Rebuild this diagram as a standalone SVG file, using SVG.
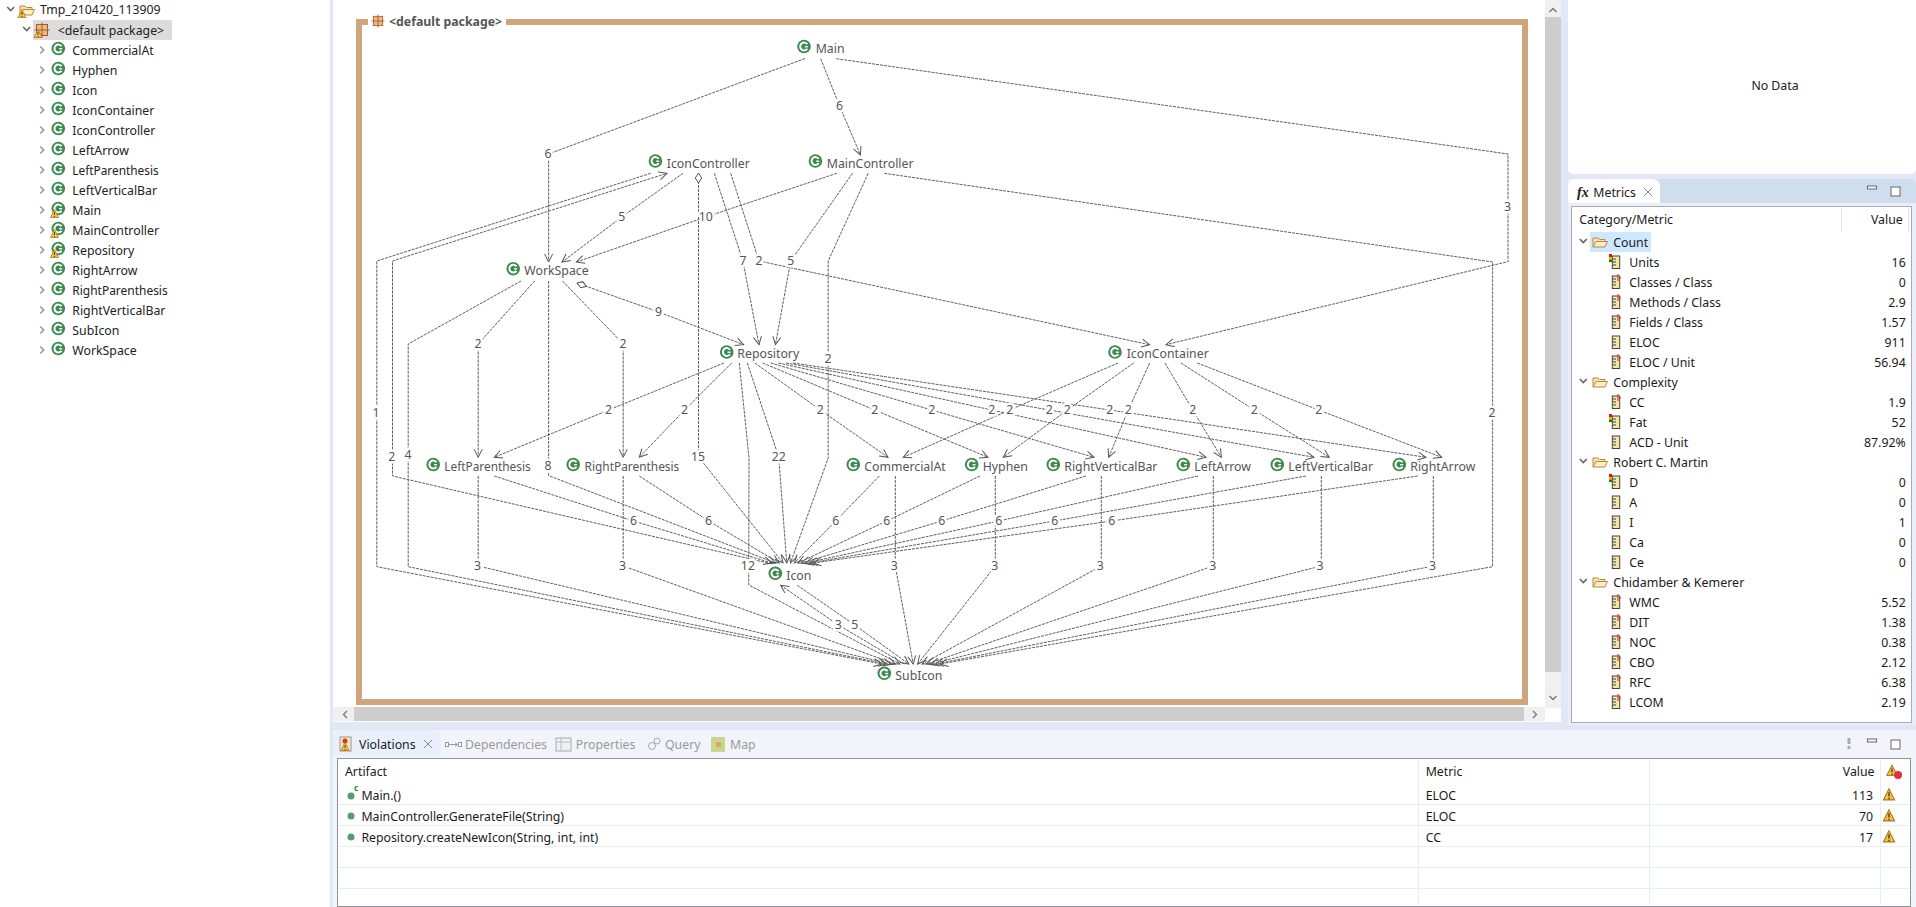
<svg xmlns="http://www.w3.org/2000/svg" width="1916" height="907" viewBox="0 0 1916 907">
<style>
text{font-family:"Noto Sans","Liberation Sans",sans-serif;font-size:12.3px;fill:#222}
.n text{fill:#555}
.e{fill:none;stroke:#5f5f5f;stroke-width:1;stroke-dasharray:3 1;marker-end:url(#a)}
.l text{fill:#555;text-anchor:middle;paint-order:stroke;stroke:#fff;stroke-width:5px;stroke-linejoin:round}
.t text{fill:#1a1a1a}
.r{text-anchor:end}
.c{fill:none;stroke:#777;stroke-width:1.4}
.sep{stroke:#e9eef5;stroke-width:1}
</style>
<defs>
<marker id="a" markerUnits="userSpaceOnUse" markerWidth="12" markerHeight="10" refX="9" refY="4.5" orient="auto"><path d="M1 .5L9 4.5L1 8.5" fill="none" stroke="#555"/></marker>
<marker id="d" markerUnits="userSpaceOnUse" markerWidth="12" markerHeight="8" refX="0.5" refY="4" orient="auto"><path d="M.5 4L5.500 .8L10.500 4L5.500 7.200Z" fill="#fff" stroke="#555"/></marker>
<g id="cl"><circle r="6.800" fill="#3c8a4e"/><path d="M3.300-2.200A3.900 3.900 0 1 0 3.300 2.200" fill="none" stroke="#fff" stroke-width="2"/><path d="M3.900 .2H.8" stroke="#fff" stroke-width="1.400"/></g>
<g id="wa"><path d="M0-4.500L4 3.500H-4Z" fill="#f5c24a" stroke="#b07a20" stroke-width=".8"/><path d="M0-2V1M0 2V3" stroke="#5a3a00" stroke-width="1"/></g>
<path id="ch" d="M-2.500-3.500L1 0L-2.500 3.500" fill="none" stroke="#999" stroke-width="1.600"/>
<path id="cd" d="M-3.500-2L0 1.500L3.500-2" fill="none" stroke="#666" stroke-width="1.600"/>
<g id="fo"><path d="M-7 5V-4H-2L-.5-2.500H5V-.5" fill="#f8e3b0" stroke="#b98a3c"/><path d="M-7 5L-4-.5H7.500L5 5Z" fill="#fbeec8" stroke="#b98a3c"/></g>
<g id="ru"><rect x="-3.700" y="-6" width="7.400" height="12.500" fill="#f6e6a6" stroke="#444"/><path d="M-3.500-3H0M-3.500 0H0M-3.500 3H0" stroke="#444"/></g>
<g id="sp"><use href="#ru"/><path d="M2-8V-1M3.500-4H5" stroke="#e02020" stroke-width="1"/></g>
<g id="tl"><use href="#ru"/><rect x="-7" y="-8" width="3" height="3" fill="#e01010"/><rect x="-7" y="-5" width="3" height="2.500" fill="#e8c800"/><rect x="-7" y="-2.500" width="3" height="2.500" fill="#108010"/></g>
<g id="pk"><rect x="-5.500" y="-5.500" width="11" height="11" fill="#e8b98a" stroke="#a85a1e"/><path d="M0-7.500V7.500M-7.500 0H7.500" stroke="#a85a1e"/></g>
</defs>

<rect width="1916" height="907" fill="#e2e7f5"/>
<rect x="0" y="0" width="330" height="907" fill="#fff"/>
<rect x="333" y="0" width="1228" height="722" fill="#fff"/>

<g id="tree">
<use href="#cd" x="10.700" y="9"/><use href="#fo" x="27" y="10"/><use href="#wa" x="22" y="14"/>
<text x="40" y="14">Tmp_210420_113909</text>
<rect x="33" y="20" width="139" height="20" fill="#dcdcdc"/>
<use href="#cd" x="26.700" y="29"/><use href="#pk" x="42" y="30"/><use href="#wa" x="38" y="34"/>
<text x="57.700" y="34.500">&lt;default package&gt;</text>
<use href="#ch" x="42.700" y="50"/><use href="#cl" x="58.300" y="48.500"/><text x="72.300" y="54.500">CommercialAt</text>
<use href="#ch" x="42.700" y="70"/><use href="#cl" x="58.300" y="68.500"/><text x="72.300" y="74.500">Hyphen</text>
<use href="#ch" x="42.700" y="90"/><use href="#cl" x="58.300" y="88.500"/><text x="72.300" y="94.500">Icon</text>
<use href="#ch" x="42.700" y="110"/><use href="#cl" x="58.300" y="108.500"/><text x="72.300" y="114.500">IconContainer</text>
<use href="#ch" x="42.700" y="130"/><use href="#cl" x="58.300" y="128.500"/><text x="72.300" y="134.500">IconController</text>
<use href="#ch" x="42.700" y="150"/><use href="#cl" x="58.300" y="148.500"/><text x="72.300" y="154.500">LeftArrow</text>
<use href="#ch" x="42.700" y="170"/><use href="#cl" x="58.300" y="168.500"/><text x="72.300" y="174.500" textLength="86.400" lengthAdjust="spacingAndGlyphs">LeftParenthesis</text>
<use href="#ch" x="42.700" y="190"/><use href="#cl" x="58.300" y="188.500"/><text x="72.300" y="194.500">LeftVerticalBar</text>
<use href="#ch" x="42.700" y="210"/><use href="#cl" x="58.300" y="208.500"/><use href="#wa" x="54.500" y="214"/><text x="72.300" y="214.500">Main</text>
<use href="#ch" x="42.700" y="230"/><use href="#cl" x="58.300" y="228.500"/><use href="#wa" x="54.500" y="234"/><text x="72.300" y="234.500">MainController</text>
<use href="#ch" x="42.700" y="250"/><use href="#cl" x="58.300" y="248.500"/><use href="#wa" x="54.500" y="254"/><text x="72.300" y="254.500">Repository</text>
<use href="#ch" x="42.700" y="270"/><use href="#cl" x="58.300" y="268.500"/><text x="72.300" y="274.500">RightArrow</text>
<use href="#ch" x="42.700" y="290"/><use href="#cl" x="58.300" y="288.500"/><text x="72.300" y="294.500" textLength="95.400" lengthAdjust="spacingAndGlyphs">RightParenthesis</text>
<use href="#ch" x="42.700" y="310"/><use href="#cl" x="58.300" y="308.500"/><text x="72.300" y="314.500">RightVerticalBar</text>
<use href="#ch" x="42.700" y="330"/><use href="#cl" x="58.300" y="328.500"/><text x="72.300" y="334.500">SubIcon</text>
<use href="#ch" x="42.700" y="350"/><use href="#cl" x="58.300" y="348.500"/><text x="72.300" y="354.500">WorkSpace</text>
</g>

<g id="package-frame">
<path d="M368 22H359V702H1525V22H506" fill="none" stroke="#cfa57c" stroke-width="6"/>
<use href="#pk" transform="translate(378 21) scale(.85)"/>
<text x="389" y="26" style="fill:#555;font-weight:700">&lt;default package&gt;</text>
</g>

<g id="connectors">
<polyline class="e" points="805,58.500 548.600,154 548.600,262"/>
<polyline class="e" points="820.700,58.700 839.600,106 860.400,155"/>
<polyline class="e" points="836.400,58.700 1508,154 1508,261.600 1166,344.700"/>
<polyline class="e" points="682.900,173.300 621.800,217 562,262"/>
<polyline class="e" points="836.800,173.300 705.700,217 576.400,262"/>
<polyline class="e" style="marker-start:url(#d)" points="698.500,173 698.500,457 705,465 783,563"/>
<polyline class="e" points="714.300,173.300 742.900,261 759,344.700"/>
<polyline class="e" points="730.700,173.300 759,261 1149.600,344.700"/>
<polyline class="e" points="852.500,173.300 790.700,261 775.400,344.700"/>
<polyline class="e" points="868.200,173.300 828.200,261 828.200,458 790.500,563"/>
<polyline class="e" points="884.300,173.300 1492.600,262 1492.600,566.700 940,664"/>
<polyline class="e" points="768,563 392.500,476 392.500,261 667,173.300"/>
<polyline class="e" points="650.700,173.300 376.800,261 376.800,566.700 882,664"/>
<polyline class="e" points="521,281 408.200,344 408.200,566.700 886.500,664"/>
<polyline class="e" points="534.600,281 478.200,344 478.200,457.300"/>
<polyline class="e" points="548.600,281 548.600,475.600 775.500,563"/>
<polyline class="e" points="562.500,281 623.200,344 623.200,457.300"/>
<polyline class="e" style="marker-start:url(#d)" points="577,283 658.600,312 743.600,344.700"/>
<polyline class="e" points="724,363 608.600,410 494.300,457.300"/>
<polyline class="e" points="731.700,363 684.600,410 639.300,457.300"/>
<polyline class="e" points="739.300,363 749,458 748.700,585 899.800,664"/>
<polyline class="e" points="747.300,363 778.700,457 786.750,563"/>
<polyline class="e" points="755,363 820.300,410 888,457.300"/>
<polyline class="e" points="762.700,363 874.700,410 988,457.300"/>
<polyline class="e" points="770.700,363 931.700,410 1094,457.300"/>
<polyline class="e" points="778.300,363 991.700,410 1206,457.300"/>
<polyline class="e" points="786,363 1049.300,410 1314,457.300"/>
<polyline class="e" points="793,363 1109.700,410 1426,457.300"/>
<polyline class="e" points="1118,363 1009.700,410 903.300,457.300"/>
<polyline class="e" points="1133.700,363 1067.300,410 1003.300,457.300"/>
<polyline class="e" points="1149.700,363 1128.300,410 1108.700,457.300"/>
<polyline class="e" points="1165,363 1192.700,410 1221.300,457.300"/>
<polyline class="e" points="1181,363 1254.300,410 1329.300,457.300"/>
<polyline class="e" points="1197.300,363 1318.700,410 1441.700,457.300"/>
<polyline class="e" points="494.300,476 633.600,521 771.750,563"/>
<polyline class="e" points="639.300,476 708.600,521 779.250,563"/>
<polyline class="e" points="879.300,476 835.700,521 794.250,563"/>
<polyline class="e" points="980,476 886.700,521 798,563"/>
<polyline class="e" points="1086,476 941.700,521 801.750,563"/>
<polyline class="e" points="1198,476 998.700,521 805.500,563"/>
<polyline class="e" points="1306,476 1054.700,521 809.250,563"/>
<polyline class="e" points="1417.700,476 1111.700,521 813,563"/>
<polyline class="e" points="478.200,476 478.200,566 891,664"/>
<polyline class="e" points="623.200,476 623.200,566 895.400,664"/>
<polyline class="e" points="895.300,476 895.300,566 913.200,664"/>
<polyline class="e" points="995.300,476 995.300,566 917.700,664"/>
<polyline class="e" points="1101.300,476 1101.300,566 922.200,664"/>
<polyline class="e" points="1213.300,476 1213.300,566 926.600,664"/>
<polyline class="e" points="1321.300,476 1321.300,566 931,664"/>
<polyline class="e" points="1433.300,476 1433.300,566 935.500,664"/>
<polyline class="e" points="904.300,664 838.300,625 780.700,585.300"/>
<polyline class="e" points="797.300,585.300 854.700,625 908.800,664"/>
<g class="l">
<text x="548" y="158">6</text><text x="839.600" y="110">6</text><text x="1507.500" y="211">3</text>
<text x="621.800" y="221">5</text><text x="705.700" y="221">10</text><text x="698" y="461">15</text>
<text x="742.900" y="265">7</text><text x="759" y="265">2</text><text x="790.700" y="265">5</text>
<text x="828" y="363">2</text><text x="1492" y="417">2</text><text x="391.800" y="461">2</text>
<text x="376" y="417">1</text><text x="408" y="459">4</text><text x="477.900" y="348">2</text>
<text x="548" y="470">8</text><text x="622.900" y="348">2</text><text x="658.600" y="316">9</text>
<text x="608.600" y="414">2</text><text x="684.600" y="414">2</text><text x="747.900" y="570">12</text>
<text x="778.700" y="461">22</text><text x="820.300" y="414">2</text><text x="874.700" y="414">2</text>
<text x="931.700" y="414">2</text><text x="991.700" y="414">2</text><text x="1049.300" y="414">2</text>
<text x="1109.700" y="414">2</text><text x="1009.700" y="414">2</text><text x="1067.300" y="414">2</text>
<text x="1128.300" y="414">2</text><text x="1192.700" y="414">2</text><text x="1254.300" y="414">2</text>
<text x="1318.700" y="414">2</text>
<text x="633.600" y="525">6</text><text x="708.600" y="525">6</text><text x="835.700" y="525">6</text>
<text x="886.700" y="525">6</text><text x="941.700" y="525">6</text><text x="998.700" y="525">6</text>
<text x="1054.700" y="525">6</text><text x="1111.700" y="525">6</text>
<text x="477.500" y="570">3</text><text x="622.500" y="570">3</text><text x="894.300" y="570">3</text>
<text x="994.700" y="570">3</text><text x="1100.300" y="570">3</text><text x="1212.700" y="570">3</text>
<text x="1320" y="570">3</text><text x="1432.400" y="570">3</text>
<text x="838.300" y="629">3</text><text x="854.700" y="629">5</text>
</g>
</g>

<g id="Main" class="n"><use href="#cl" x="804" y="46.500"/><text x="815.700" y="53">Main</text></g>
<g id="IconController" class="n"><use href="#cl" x="655.400" y="161"/><text x="666.800" y="168">IconController</text></g>
<g id="MainController" class="n"><use href="#cl" x="815.400" y="161"/><text x="826.800" y="168">MainController</text></g>
<g id="WorkSpace" class="n"><use href="#cl" x="513.200" y="268.700"/><text x="524.300" y="275">WorkSpace</text></g>
<g id="Repository" class="n"><use href="#cl" x="726.700" y="352"/><text x="737.300" y="358">Repository</text></g>
<g id="IconContainer" class="n"><use href="#cl" x="1115" y="352"/><text x="1126.700" y="358">IconContainer</text></g>
<g id="LeftParenthesis" class="n"><use href="#cl" x="433.200" y="464.500"/><text x="444.300" y="471" textLength="86.400" lengthAdjust="spacingAndGlyphs">LeftParenthesis</text></g>
<g id="RightParenthesis" class="n"><use href="#cl" x="573.200" y="464.500"/><text x="584.600" y="471" textLength="94.700" lengthAdjust="spacingAndGlyphs">RightParenthesis</text></g>
<g id="CommercialAt" class="n"><use href="#cl" x="853.300" y="464.500"/><text x="864.300" y="471">CommercialAt</text></g>
<g id="Hyphen" class="n"><use href="#cl" x="971.700" y="464.500"/><text x="982.700" y="471">Hyphen</text></g>
<g id="RightVerticalBar" class="n"><use href="#cl" x="1053.300" y="464.500"/><text x="1064.300" y="471">RightVerticalBar</text></g>
<g id="LeftArrow" class="n"><use href="#cl" x="1183.300" y="464.500"/><text x="1194.300" y="471">LeftArrow</text></g>
<g id="LeftVerticalBar" class="n"><use href="#cl" x="1277.300" y="464.500"/><text x="1288.300" y="471">LeftVerticalBar</text></g>
<g id="RightArrow" class="n"><use href="#cl" x="1399.300" y="464.500"/><text x="1410.300" y="471">RightArrow</text></g>
<g id="Icon" class="n"><use href="#cl" x="775.300" y="573.300"/><text x="786.300" y="580">Icon</text></g>
<g id="SubIcon" class="n"><use href="#cl" x="884.300" y="673.300"/><text x="895.300" y="680">SubIcon</text></g>

<g id="scrollbars">
<rect x="1545" y="0" width="16" height="708" fill="#cdcdcd"/>
<rect x="1545" y="0" width="16" height="17" fill="#f0f0f0"/>
<rect x="1545" y="672" width="16" height="36" fill="#f0f0f0"/>
<path d="M1549.500 12L1553 8.500L1556.500 12" class="c"/>
<path d="M1549.500 696L1553 699.500L1556.500 696" class="c"/>
<rect x="333" y="707" width="1212" height="14" fill="#cdcdcd"/>
<rect x="333" y="707" width="21" height="14" fill="#f0f0f0"/>
<rect x="1524" y="707" width="21" height="14" fill="#f0f0f0"/>
<path d="M347 711L343.500 714.500L347 718" class="c"/>
<path d="M1533 711L1536.500 714.500L1533 718" class="c"/>
</g>

<g id="no-data">
<rect x="1568" y="-5" width="348" height="179" rx="5" fill="#fff"/>
<text x="1775" y="90" text-anchor="middle">No Data</text>
</g>

<g id="metrics" class="t">
<rect x="1568" y="179" width="348" height="546" rx="5" fill="#cfdeee"/>
<rect x="1568" y="203" width="348" height="522" fill="#e9eef8"/>
<path d="M1568 203V185Q1568 179 1574 179H1652Q1660 179 1660 187V203Z" fill="#fff"/>
<text x="1577" y="197" style="font-family:'Liberation Serif',serif;font-style:italic;font-weight:700;font-size:14px">fx</text>
<text x="1593.300" y="197">Metrics</text>
<path d="M1644 188L1652 196M1652 188L1644 196" stroke="#888" fill="none"/>
<rect x="1867.500" y="186" width="9" height="3" fill="#fff" stroke="#666"/>
<rect x="1891" y="187" width="9" height="9" fill="#fff" stroke="#666"/>
<rect x="1571.500" y="206.500" width="340" height="516" fill="#fff" stroke="#a8acb4"/>
<text x="1579.300" y="224">Category/Metric</text><text x="1902.700" y="224" class="r">Value</text>
<path d="M1841.500 208V232M1908.500 208V232" stroke="#e4e4e4"/>
<rect x="1590" y="232" width="61" height="20" fill="#cde8ff"/>
<use href="#cd" x="1583.300" y="241"/><use href="#fo" x="1600" y="242"/><text x="1613.300" y="246.500">Count</text>
<use href="#tl" x="1616" y="262"/><text x="1629.300" y="266.500">Units</text><text x="1905.700" y="266.500" class="r">16</text>
<use href="#sp" x="1616" y="282"/><text x="1629.300" y="286.500">Classes / Class</text><text x="1905.700" y="286.500" class="r">0</text>
<use href="#sp" x="1616" y="302"/><text x="1629.300" y="306.500">Methods / Class</text><text x="1905.700" y="306.500" class="r">2.9</text>
<use href="#sp" x="1616" y="322"/><text x="1629.300" y="326.500">Fields / Class</text><text x="1905.700" y="326.500" class="r">1.57</text>
<use href="#ru" x="1616" y="342"/><text x="1629.300" y="346.500">ELOC</text><text x="1905.700" y="346.500" class="r">911</text>
<use href="#sp" x="1616" y="362"/><text x="1629.300" y="366.500">ELOC / Unit</text><text x="1905.700" y="366.500" class="r">56.94</text>
<use href="#cd" x="1583.300" y="381"/><use href="#fo" x="1600" y="382"/><text x="1613.300" y="386.500">Complexity</text>
<use href="#sp" x="1616" y="402"/><text x="1629.300" y="406.500">CC</text><text x="1905.700" y="406.500" class="r">1.9</text>
<use href="#tl" x="1616" y="422"/><text x="1629.300" y="426.500">Fat</text><text x="1905.700" y="426.500" class="r">52</text>
<use href="#ru" x="1616" y="442"/><text x="1629.300" y="446.500">ACD - Unit</text><text x="1905.700" y="446.500" class="r">87.92%</text>
<use href="#cd" x="1583.300" y="461"/><use href="#fo" x="1600" y="462"/><text x="1613.300" y="466.500">Robert C. Martin</text>
<use href="#tl" x="1616" y="482"/><text x="1629.300" y="486.500">D</text><text x="1905.700" y="486.500" class="r">0</text>
<use href="#ru" x="1616" y="502"/><text x="1629.300" y="506.500">A</text><text x="1905.700" y="506.500" class="r">0</text>
<use href="#ru" x="1616" y="522"/><text x="1629.300" y="526.500">I</text><text x="1905.700" y="526.500" class="r">1</text>
<use href="#ru" x="1616" y="542"/><text x="1629.300" y="546.500">Ca</text><text x="1905.700" y="546.500" class="r">0</text>
<use href="#ru" x="1616" y="562"/><text x="1629.300" y="566.500">Ce</text><text x="1905.700" y="566.500" class="r">0</text>
<use href="#cd" x="1583.300" y="581"/><use href="#fo" x="1600" y="582"/><text x="1613.300" y="586.500" textLength="131" lengthAdjust="spacingAndGlyphs">Chidamber &amp; Kemerer</text>
<use href="#sp" x="1616" y="602"/><text x="1629.300" y="606.500">WMC</text><text x="1905.700" y="606.500" class="r">5.52</text>
<use href="#sp" x="1616" y="622"/><text x="1629.300" y="626.500">DIT</text><text x="1905.700" y="626.500" class="r">1.38</text>
<use href="#sp" x="1616" y="642"/><text x="1629.300" y="646.500">NOC</text><text x="1905.700" y="646.500" class="r">0.38</text>
<use href="#sp" x="1616" y="662"/><text x="1629.300" y="666.500">CBO</text><text x="1905.700" y="666.500" class="r">2.12</text>
<use href="#sp" x="1616" y="682"/><text x="1629.300" y="686.500">RFC</text><text x="1905.700" y="686.500" class="r">6.38</text>
<use href="#sp" x="1616" y="702"/><text x="1629.300" y="706.500">LCOM</text><text x="1905.700" y="706.500" class="r">2.19</text>
</g>

<g id="violations" class="t">
<rect x="333" y="730" width="1583" height="177" fill="#f2f4fb"/>
<path d="M333 756V736Q333 730 339 730H433Q441 730 441 738V756Z" fill="#e9f0fa"/>
<rect x="340" y="737" width="11" height="14" fill="#f7e6c0" stroke="#999"/><circle cx="345" cy="741" r="2.500" fill="#e03020"/><use href="#wa" x="345" y="747"/>
<text x="359" y="749">Violations</text>
<path d="M424 740L432 748M432 740L424 748" stroke="#888" fill="none"/>
<rect x="337.500" y="758.500" width="1573" height="148" fill="#fff" stroke="#909498"/>
<rect x="445.500" y="742.500" width="3" height="4" fill="#fff" stroke="#999"/><path d="M449 744.500H457" stroke="#999"/><path d="M455 742.500L457.500 744.500L455 746.500" fill="none" stroke="#999"/><rect x="458.500" y="742.500" width="3" height="4" fill="#fff" stroke="#999"/>
<rect x="556" y="738" width="15" height="13" fill="#eef0f4" stroke="#aaa"/><path d="M556 742H571M561 738V751" stroke="#bbb"/>
<circle cx="652" cy="746" r="3.500" fill="none" stroke="#aaa"/><circle cx="657" cy="741" r="3" fill="none" stroke="#aaa"/>
<rect x="711" y="737" width="14" height="15" fill="#c8d88a"/><rect x="716" y="742" width="5" height="5" fill="#e8a070"/>
<text x="465" y="749" style="fill:#9a9a9a">Dependencies</text>
<text x="575.700" y="749" style="fill:#9a9a9a">Properties</text>
<text x="665" y="749" style="fill:#9a9a9a">Query</text>
<text x="730" y="749" style="fill:#9a9a9a">Map</text>
<rect x="1847.500" y="738" width="3" height="6" fill="#aaa"/><circle cx="1849" cy="747.500" r="1.700" fill="#aaa"/>
<rect x="1867.500" y="739" width="9" height="3" fill="#fff" stroke="#666"/>
<rect x="1891" y="740" width="9" height="9" fill="#fff" stroke="#666"/>
<path class="sep" d="M338 804.500H1910M338 825.500H1910M338 846.500H1910M338 867.500H1910M338 888.500H1910M1418.500 760V904M1649.500 760V904M1880.500 760V904"/>
<text x="345" y="776">Artifact</text><text x="1425.700" y="776">Metric</text><text x="1874.500" y="776" class="r">Value</text>
<use href="#wa" transform="translate(1892 771) scale(1.300)"/><circle cx="1898" cy="775" r="4" fill="#e03040"/>
<circle cx="351" cy="796" r="3.500" fill="#5a9a70"/><text x="354" y="791" style="fill:#109020;font-size:8px;font-weight:700">c</text>
<text x="361.400" y="800">Main.()</text><text x="1425.700" y="800">ELOC</text><text x="1873" y="800" class="r">113</text><use href="#wa" transform="translate(1889 795) scale(1.400)"/>
<circle cx="351" cy="816" r="3.500" fill="#5a9a70"/>
<text x="361.400" y="821">MainController.GenerateFile(String)</text><text x="1425.700" y="821">ELOC</text><text x="1873" y="821" class="r">70</text><use href="#wa" transform="translate(1889 816) scale(1.400)"/>
<circle cx="351" cy="837" r="3.500" fill="#5a9a70"/>
<text x="361.400" y="842">Repository.createNewIcon(String, int, int)</text><text x="1425.700" y="842">CC</text><text x="1873" y="842" class="r">17</text><use href="#wa" transform="translate(1889 837) scale(1.400)"/>
</g>
</svg>
